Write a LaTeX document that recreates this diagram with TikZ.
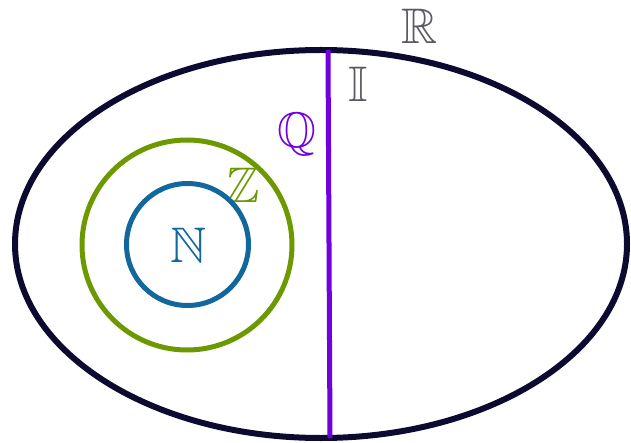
\documentclass[tikz,border=0pt]{standalone}
\usepackage{amsmath,amssymb}
\usepackage{xcolor}
\definecolor{setnavy}{RGB}{12,10,48}
\definecolor{setpurple}{RGB}{112,0,222}
\definecolor{setgreen}{RGB}{108,152,0}
\definecolor{setblue}{RGB}{18,104,156}
\definecolor{setgray}{RGB}{90,90,100}
\usetikzlibrary{positioning}

\begin{document}
\begin{tikzpicture}[x=0.5pt,y=-0.5pt,
    setlabel/.style={inner sep=0pt,font=\fontsize{25}{30}\selectfont},
    setline/.style={line width=2.5pt}]
  \useasboundingbox (0,0) rectangle (631,443);
  % ---------------- the reals: outer ellipse
  \draw[setnavy,line width=3pt] (321,244) ellipse [x radius=306, y radius=194];
  \node[setlabel,setgray] (R) at (420,26) {$\mathbb{R}$};
  % ---------------- rationals | irrationals split
  \coordinate (qtop) at (328,50);
  \coordinate (qbot) at (330,438);
  \draw[setline,setpurple] (qtop) -- (qbot);
  \node[setlabel,setpurple] (Q) at (297,134) {$\mathbb{Q}$};
  \node[setlabel,setgray] (I) at (358,84) {$\mathbb{I}$};
  % ---------------- integers and naturals
  \draw[setline,setgreen] (187,245) circle (105);
  \node[setlabel,setgreen] (Z) at (243,185) {$\mathbb{Z}$};
  \draw[setline,setblue] (187.5,244.5) circle (61);
  \node[setlabel,setblue] (N) at (189,245) {$\mathbb{N}$};
\end{tikzpicture}
\end{document}
